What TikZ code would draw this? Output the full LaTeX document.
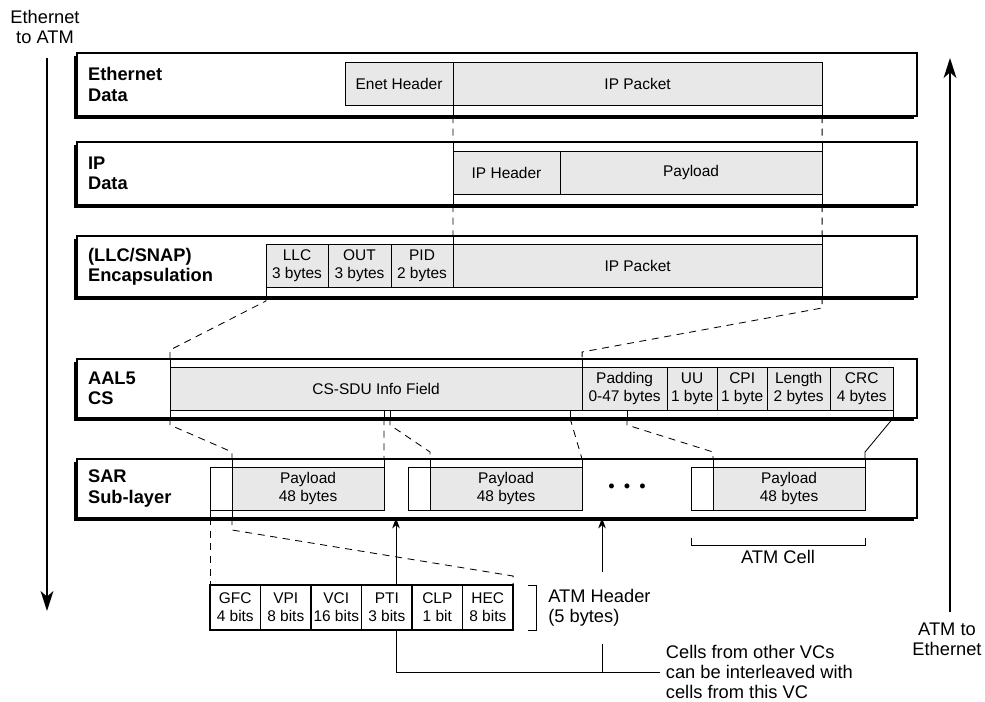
\documentclass[tikz,border=0pt]{standalone}
\usepackage{fontspec}
\setmainfont{Liberation Sans}
\usetikzlibrary{arrows.meta, positioning, calc, fit, shadows, backgrounds}
\definecolor{FieldGray}{HTML}{E8E8E8}

\begin{document}
\begin{tikzpicture}[
    x=0.025cm, y=-0.025cm,
    every node/.style={font=\fontsize{13}{14.5}\selectfont},
    layer/.style={draw, line width=1pt, fill=white, inner sep=0pt, outer sep=0pt,
        drop shadow={shadow xshift=-0.08cm, shadow yshift=-0.08cm, fill=black, opacity=1}},
    lyrname/.style={anchor=west, align=left, inner sep=0pt, font=\fontsize{13}{14.5}\selectfont\bfseries},
    field/.style={draw, line width=0.6pt, fill=FieldGray, inner sep=0pt, outer sep=0pt, align=center,
        minimum height=1.075cm, font=\fontsize{11}{13}\selectfont},
    hdrcell/.style={draw, line width=0.6pt, fill=white, inner sep=0pt, outer sep=0pt,
        minimum width=0.55cm, minimum height=1.075cm},
    hdrbit/.style={draw, line width=1.2pt, fill=white, inner sep=0pt, outer sep=0pt, align=center,
        minimum width=1.2625cm, minimum height=1.125cm, font=\fontsize{11}{13}\selectfont},
    link/.style={line width=0.6pt, dash pattern=on 5pt off 4pt},
    cutline/.style={line width=0.6pt},
    arrow/.style={-{Stealth[length=5mm, width=3.2mm, inset=1.4mm]}, line width=1.1pt},
    uparrow/.style={-{Stealth[length=2.6mm, width=1.9mm, inset=0.8mm]}, line width=0.6pt},
]
\useasboundingbox (0,0) rectangle (985,702);

% Layers
\node[layer, fit={(77,53) (917,116)}] (eth) {};
\node[layer, fit={(77,142) (917,205)}] (ipd) {};
\node[layer, fit={(77,236) (917,297)}] (enc) {};
\node[layer, fit={(77,359) (917,418)}] (aal) {};
\node[layer, fit={(77,459) (917,518)}] (sar) {};

\node[lyrname] (ethname) at ([xshift=0.27cm]eth.west) {Ethernet\\Data};
\node[lyrname] (ipname) at ([xshift=0.27cm]ipd.west) {IP\\Data};
\node[lyrname] (encname) at ([xshift=0.27cm]enc.west) {(LLC/SNAP)\\Encapsulation};
\node[lyrname] (aalname) at ([xshift=0.27cm]aal.west) {AAL5\\CS};
\node[lyrname] (sarname) at ([xshift=0.27cm]sar.west) {SAR\\Sub-layer};

% Ethernet data
\node[field, anchor=north west, minimum width=2.7cm] (enet) at (345,62) {Enet Header};
\node[field, right=0pt of enet, minimum width=9.225cm] (ipk1) {IP Packet};

% IP data
\node[field, anchor=north west, minimum width=2.675cm] (iphdr) at (453,151) {IP Header};
\node[field, right=0pt of iphdr, minimum width=6.55cm] (pay2) {Payload};

% Encapsulation
\node[field, anchor=north west, minimum width=1.55cm] (llc) at (266,244) {LLC\\3 bytes};
\node[field, right=0pt of llc, minimum width=1.575cm] (out) {OUT\\3 bytes};
\node[field, right=0pt of out, minimum width=1.55cm] (pid) {PID\\2 bytes};
\node[field, right=0pt of pid, minimum width=9.225cm] (ipk3) {IP Packet};

% AAL5 CS
\node[field, anchor=north west, minimum width=10.3cm] (csdu) at (170,367) {CS-SDU Info Field};
\node[field, right=0pt of csdu, minimum width=2.125cm] (pad) {Padding\\0-47 bytes};
\node[field, right=0pt of pad, minimum width=1.25cm] (uu) {UU\\1 byte};
\node[field, right=0pt of uu, minimum width=1.25cm] (cpi) {CPI\\1 byte};
\node[field, right=0pt of cpi, minimum width=1.575cm] (len) {Length\\2 bytes};
\node[field, right=0pt of len, minimum width=1.575cm] (crc) {CRC\\4 bytes};
\coordinate (cut1) at (384,410);
\coordinate (cut2) at (390,410);
\coordinate (cut3) at (570,410);
\coordinate (cut4) at (627,410);

% SAR cells
\node[hdrcell, anchor=north west] (hdr1) at (210,467) {};
\node[field, right=0pt of hdr1, minimum width=3.8cm] (pl1) {Payload\\48 bytes};
\node[hdrcell, anchor=north west] (hdr2) at (408,467) {};
\node[field, right=0pt of hdr2, minimum width=3.8cm] (pl2) {Payload\\48 bytes};
\node[hdrcell, anchor=north west] (hdr3) at (691,467) {};
\node[field, right=0pt of hdr3, minimum width=3.8cm] (pl3) {Payload\\48 bytes};
\node (dots) at (627,488) {\textbullet\hspace{6.5pt}\textbullet\hspace{6.5pt}\textbullet};

% ATM header
\node[hdrbit, anchor=north west] (gfc) at (210,585) {GFC\\4 bits};
\node[hdrbit, right=0pt of gfc] (vpi) {VPI\\8 bits};
\node[hdrbit, right=0pt of vpi] (vci) {VCI\\16 bits};
\node[hdrbit, right=0pt of vci] (pti) {PTI\\3 bits};
\node[hdrbit, right=0pt of pti] (clp) {CLP\\1 bit};
\node[hdrbit, right=0pt of clp] (hec) {HEC\\8 bits};

% Notes
\node[align=center] (e2a) at (45,27) {Ethernet\\to ATM};
\node[align=center] (a2e) at (947,639) {ATM to\\Ethernet};
\node[anchor=west, align=left, fill=white, inner xsep=0pt, inner ysep=12pt] (hdrnote) at (548,608) {ATM Header\\(5 bytes)};
\node[anchor=west, align=left, inner xsep=4pt, inner ysep=0pt] (vcnote) at (660,672) {Cells from other VCs\\can be interleaved with\\cells from this VC};
\node (cellname) at ($(hdr3.south west)!0.5!(pl3.south east)+(0,47)$) {ATM Cell};

% Solid pieces inside the layers
\draw[cutline] (enet.south east) -- (enet.south east |- eth.south);
\draw[cutline] (ipk1.south east) -- (ipk1.south east |- eth.south);
\draw[cutline] (iphdr.north west) -- (iphdr.north west |- ipd.north);
\draw[cutline] (iphdr.south west) -- (iphdr.south west |- ipd.south);
\draw[cutline] (pay2.north east) -- (pay2.north east |- ipd.north);
\draw[cutline] (pay2.south east) -- (pay2.south east |- ipd.south);
\draw[cutline] (ipk3.north west) -- (ipk3.north west |- enc.north);
\draw[cutline] (ipk3.north east) -- (ipk3.north east |- enc.north);
\draw[cutline] (llc.south west) -- (llc.south west |- enc.south);
\draw[cutline] (ipk3.south east) -- (ipk3.south east |- enc.south);
\draw[cutline] (csdu.north west |- aal.north) -- (csdu.south west |- aal.south);
\draw[cutline] (pad.north west) -- (pad.north west |- aal.north);
\foreach \c in {cut1, cut2, cut3, cut4}
    \draw[cutline] (\c) -- (\c |- aal.south);
\draw[cutline] (crc.south east) -- (crc.south east |- aal.south);
\foreach \p in {pl1, pl2, pl3} {
    \draw[cutline] (\p.north west) -- (\p.north west |- sar.north);
    \draw[cutline] (\p.north east) -- (\p.north east |- sar.north);
}
\draw[cutline] (hdr1.south west) -- (hdr1.south west |- sar.south);
\draw[cutline] (hdr1.south east) -- (hdr1.south east |- sar.south);

% Dashed links between layers
\draw[link] (enet.south east |- eth.south) -- (iphdr.north west |- ipd.north);
\draw[link] (ipk1.south east |- eth.south) -- (pay2.north east |- ipd.north);
\draw[link] (iphdr.south west |- ipd.south) -- (ipk3.north west |- enc.north);
\draw[link] (pay2.south east |- ipd.south) -- (ipk3.north east |- enc.north);
\draw[link] (llc.south west |- enc.south) -- ++(0,4) -- ($(csdu.north west |- aal.north)+(0,-9)$) -- (csdu.north west |- aal.north);
\draw[link] (ipk3.south east |- enc.south) -- ++(0,11) -- ($(pad.north west |- aal.north)+(0,-7)$) -- (pad.north west |- aal.north);
\draw[link] (csdu.south west |- aal.south) -- ++(0,7) -- ($(pl1.north west |- sar.north)+(0,-7)$) -- (pl1.north west |- sar.north);
\draw[link] (cut1 |- aal.south) -- (pl1.north east |- sar.north);
\draw[link] (cut2 |- aal.south) -- ++(0,7) -- ($(pl2.north west |- sar.north)+(0,-7)$) -- (pl2.north west |- sar.north);
\draw[link] (cut3 |- aal.south) -- (pl2.north east |- sar.north);
\draw[link] (cut4 |- aal.south) -- ++(0,7) -- ($(pl3.north west |- sar.north)+(0,-7)$) -- (pl3.north west |- sar.north);
\draw[cutline] (crc.south east |- aal.south) -- ($(pl3.north east |- sar.north)+(0,-7)$) -- (pl3.north east |- sar.north);
\draw[link] (hdr1.south west |- sar.south) -- (gfc.north west);
\draw[link] (hdr1.south east |- sar.south) -- ++(0,12) -- ($(hec.north east)+(0,-9)$) -- (hec.north east);

% Brackets
\draw[cutline] ($(hdr3.south west)+(0,28)$) -- ++(0,7) -| ($(pl3.south east)+(0,28)$);
\draw[cutline] ($(hec.north east)+(15,0)$) -- ++(8,0) -- ++(0,45) -- ++(-8,0);

% Direction arrows
\coordinate (downtop) at (47,58);
\coordinate (downend) at (47,611);
\coordinate (uptop) at (950,58);
\coordinate (upend) at (950,612);
\draw[arrow] (downtop) -- (downend);
\draw[arrow] (upend) -- (uptop);

% Interleaving
\coordinate (j1) at (396,672);
\coordinate (j2) at (602,672);
\begin{scope}[on background layer]
\draw[cutline] (vcnote.west) -- (j1);
\draw[uparrow] (j1) -- (j1 |- sar.south);
\draw[uparrow] (j2) -- (j2 |- sar.south);
\end{scope}

\end{tikzpicture}
\end{document}
